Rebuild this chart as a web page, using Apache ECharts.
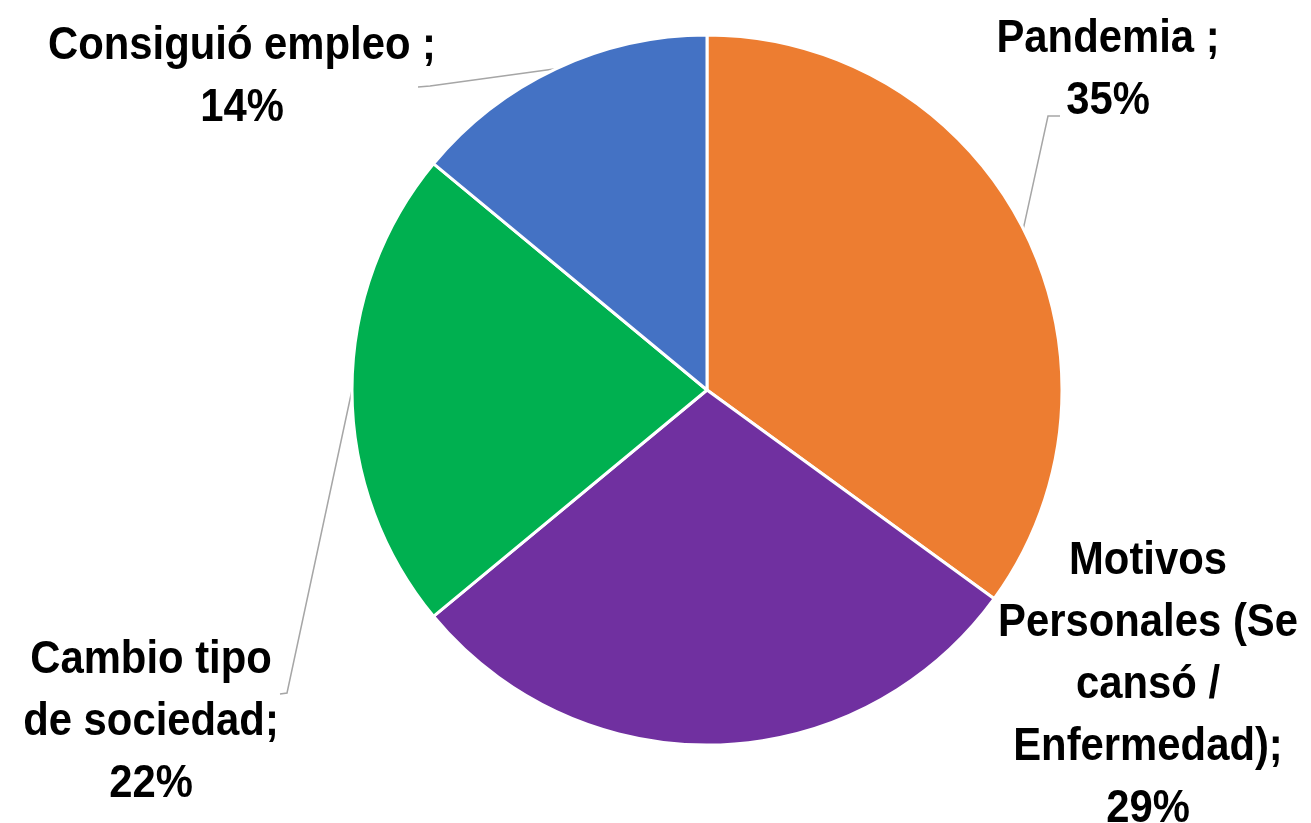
<!DOCTYPE html>
<html><head><meta charset="utf-8">
<script src="https://cdn.jsdelivr.net/npm/echarts@6/dist/echarts.min.js"></script>
<style>html,body{margin:0;padding:0;background:#fff}#c{width:1311px;height:823px}</style>
</head><body><div id="c"></div>
<script>
const categories = ['Pandemia', 'Motivos Personales (Se cansó / Enfermedad)', 'Cambio tipo de sociedad', 'Consiguió empleo'];
const values = [35, 29, 22, 14];
const labelTexts = ['Pandemia ;\n35%', 'Motivos\nPersonales (Se\ncansó /\nEnfermedad);\n29%', 'Cambio tipo\nde sociedad;\n22%', 'Consiguió empleo ;\n14%'];
const colors = ['#ED7D31', '#7030A0', '#00B050', '#4472C4'];

// layout: label anchor (center) and leader-line elbow/end
const labelPos = [[1108, 70], [1148, 685], [151, 722], [242, 77]];
const leaderElbow = [[1048, 116], null, [287, 693], [430, 86]];
const leaderEnd = [[1060, 116], null, [280, 694], [418, 87]];

const CX = 707, CY = 390, R = 355;
const total = values.reduce((a, b) => a + b, 0);
function edgePoint(i) {
  let cum = 0;
  for (let k = 0; k < i; k++) cum += values[k];
  const mid = (cum + values[i] / 2) / total;
  const ang = Math.PI / 2 - mid * 2 * Math.PI;
  return [CX + R * Math.cos(ang), CY - R * Math.sin(ang)];
}

const chart = echarts.init(document.getElementById('c'), null, {renderer: 'canvas'});
chart.setOption({
  animation: false,
  series: [{
    type: 'pie',
    center: [CX, CY],
    radius: [0, R],
    startAngle: 90,
    clockwise: true,
    data: categories.map((n, i) => ({
      name: n, value: values[i],
      itemStyle: {color: colors[i]},
      label: {formatter: labelTexts[i]},
      labelLine: {show: leaderElbow[i] !== null}
    })),
    itemStyle: {borderColor: '#fff', borderWidth: 3},
    label: {
      show: true,
      position: 'outside',
      fontFamily: '"Liberation Sans Narrow", "Arial Narrow", "Liberation Sans", Arial, sans-serif',
      fontWeight: 'bold',
      fontSize: 47,
      lineHeight: 62,
      color: '#000',
      align: 'center'
    },
    labelLine: {show: true, lineStyle: {color: '#A6A6A6', width: 1.5}, length: 10, length2: 10},
    labelLayout: function (p) {
      const i = p.dataIndex;
      const pos = labelPos[i];
      const out = {x: pos[0], y: pos[1], align: 'center', verticalAlign: 'middle', moveOverlap: null};
      if (leaderElbow[i]) {
        const start = (p.labelLinePoints && p.labelLinePoints[0]) ? p.labelLinePoints[0] : edgePoint(i);
        out.labelLinePoints = [[start[0], start[1]], leaderElbow[i], leaderEnd[i]];
      }
      return out;
    },
    emphasis: {disabled: true}
  }]
});

// condense label glyphs horizontally to mimic a narrow bold face
const data = chart.getModel().getSeriesByIndex(0).getData();
for (let i = 0; i < values.length; i++) {
  const el = data.getItemGraphicEl(i);
  const t = el && el.getTextContent();
  if (t) { t.scaleX = 0.89; t.markRedraw(); }
}
chart.getZr().refresh();
</script></body></html>
